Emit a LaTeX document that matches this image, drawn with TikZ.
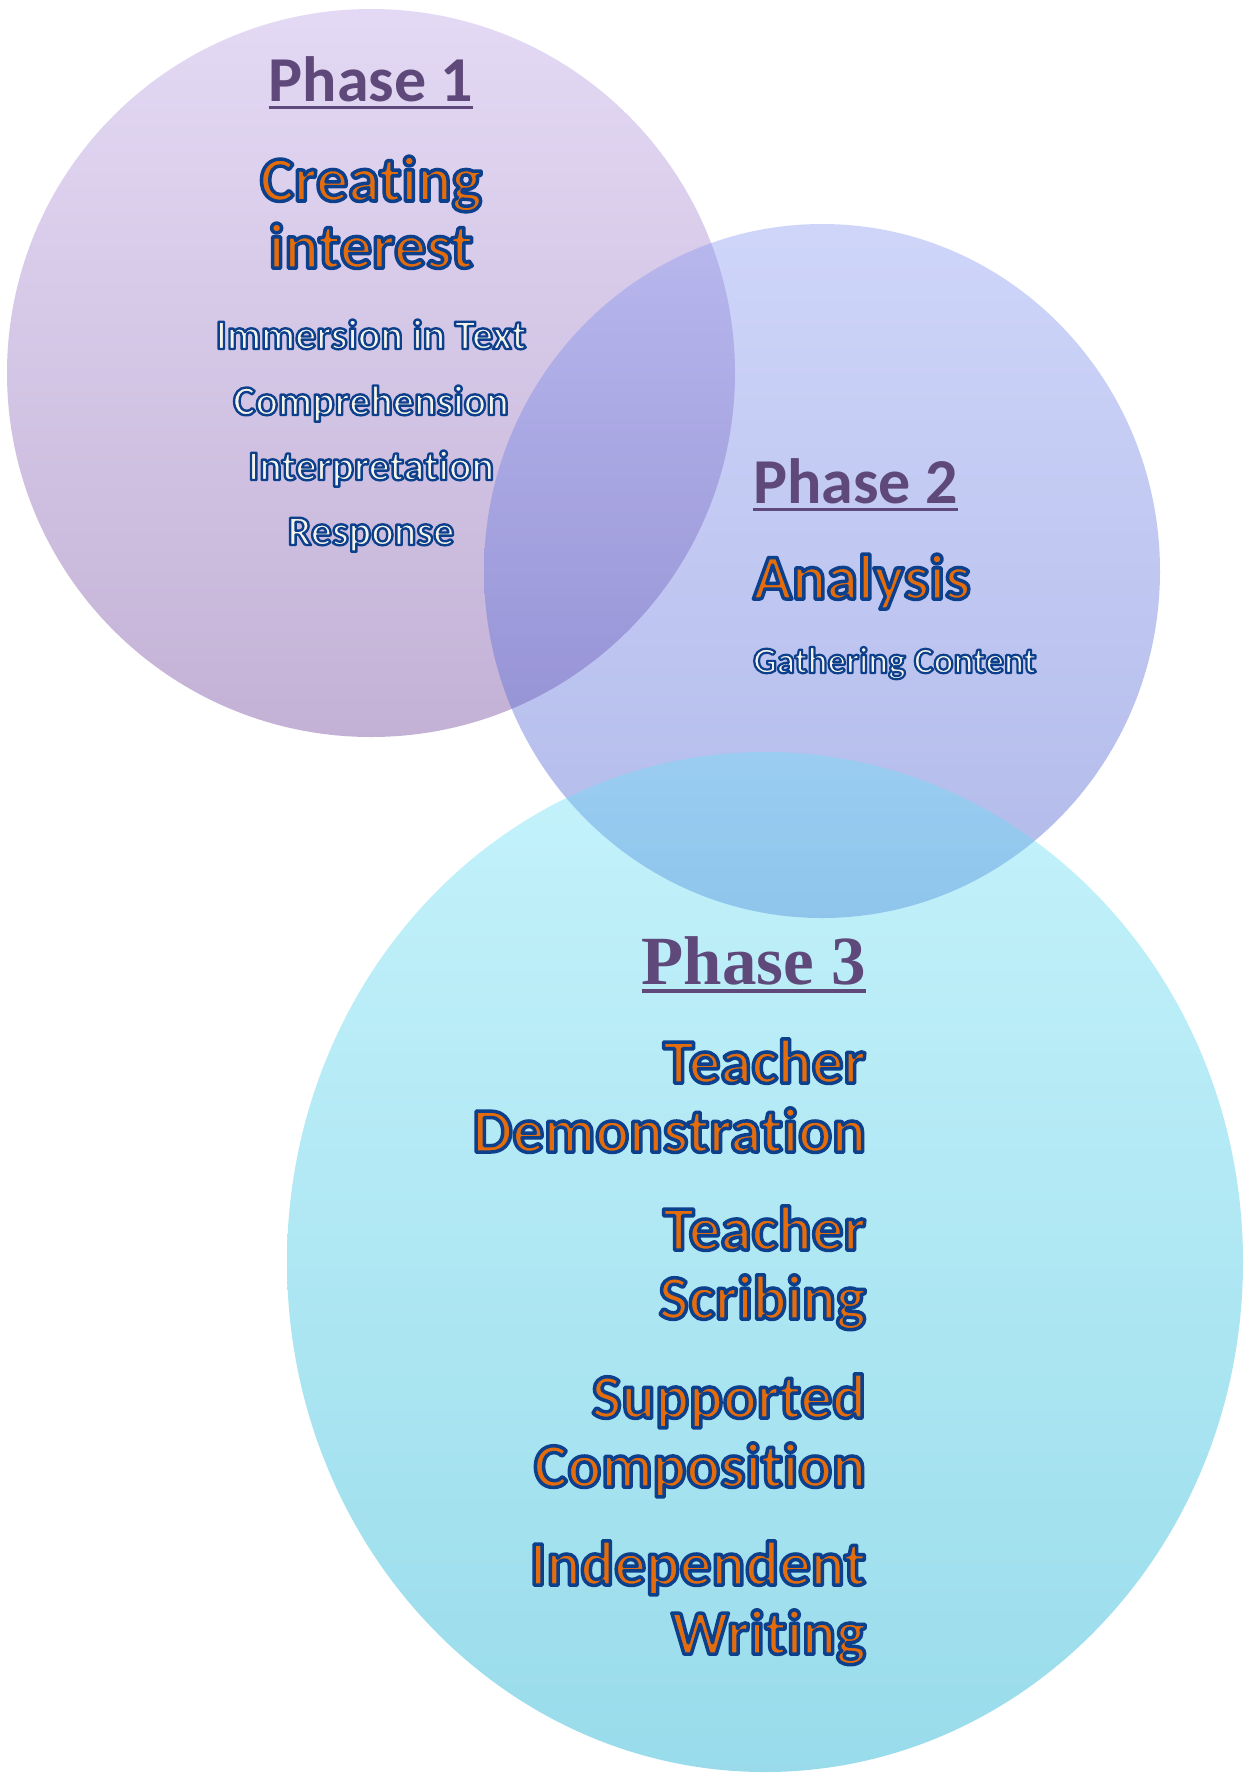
\documentclass[tikz,border=0pt]{standalone}
\usepackage{fontspec}
\setmainfont{Carlito}[Ligatures={NoCommon}]
\newfontfamily\phaseserif{Liberation Serif}
\definecolor{phasepurple}{RGB}{95,73,122}
\definecolor{txtorange}{RGB}{228,108,10}
\definecolor{cream}{RGB}{246,244,232}
\definecolor{cAtop}{RGB}{187,162,230}
\definecolor{cAbot}{RGB}{107,62,152}
\definecolor{cBtop}{RGB}{135,152,242}
\definecolor{cBbot}{RGB}{62,82,202}
\definecolor{cCtop}{RGB}{110,225,247}
\definecolor{cCbot}{RGB}{0,167,205}
% outline: stroke colour dark blue, fill+stroke render mode
\newcommand\olstart[1]{\special{pdf:literal direct 0.05 0.25 0.55 RG #1 w 1 j 2 Tr}}
\newcommand\ulined[1]{\setbox0\hbox{#1}\rlap{\rule[-0.13em]{\wd0}{0.055em}}\box0}
\tikzset{
  venn/.style={shading=axis, fill opacity=0.4, draw=none},
  phasehead/.style={inner sep=0, font=\fontsize{64}{70}\selectfont\bfseries\color{phasepurple}},
  phasehead3/.style={inner sep=0, font=\fontsize{69}{74}\selectfont\phaseserif\bfseries\color{phasepurple}},
  bigtxt/.style={inner sep=0, font=\fontsize{64}{67}\selectfont\bfseries\color{txtorange}\olstart{3.5}},
  midtxt/.style={inner sep=0, font=\fontsize{63}{69}\selectfont\bfseries\color{txtorange}\olstart{3.5}},
  smalltxt/.style={inner sep=0, font=\fontsize{42}{46}\selectfont\bfseries\color{cream}\olstart{2.4}},
  tinytxt/.style={inner sep=0, font=\fontsize{37}{40}\selectfont\bfseries\color{cream}\olstart{2.2}},
}
\begin{document}
\begin{tikzpicture}[x=1pt,y=-1pt]
\useasboundingbox (0,0) rectangle (1245,1773);
\fill[white] (0,0) rectangle (1245,1773);
% circles
\path[venn, top color=cAtop, bottom color=cAbot] (371,373) ellipse [x radius=364, y radius=364];
\path[venn, top color=cBtop, bottom color=cBbot] (822,571) ellipse [x radius=338, y radius=347];
\path[venn, top color=cCtop, bottom color=cCbot] (765,1262) ellipse [x radius=478, y radius=510];
% Phase 1
\node[phasehead, anchor=base] (p1) at (371,101) {\ulined{Phase 1}};
\node[bigtxt, anchor=base, align=center] (p1main) at (371,268) {Creating\\interest};
\node[smalltxt, anchor=base] (p1a) at (371,349) {Immersion in Text};
\node[smalltxt, anchor=base] (p1b) at (371,415) {Comprehension};
\node[smalltxt, anchor=base] (p1c) at (371,480) {Interpretation};
\node[smalltxt, anchor=base] (p1d) at (371,545) {Response};
% Phase 2
\node[phasehead, anchor=base west] (p2) at (753,503) {\ulined{Phase 2}};
\node[bigtxt, anchor=base west] (p2main) at (753,599) {Analysis};
\node[tinytxt, anchor=base west] (p2a) at (753,673) {Gathering Content};
% Phase 3
\node[phasehead3, anchor=base east] (p3) at (866,984) {\ulined{Phase 3}};
\node[midtxt, anchor=base east, align=right] (p3a) at (866,1152) {Teacher\\Demonstration};
\node[midtxt, anchor=base east, align=right] (p3b) at (866,1319) {Teacher\\Scribing};
\node[midtxt, anchor=base east, align=right] (p3c) at (866,1487) {Supported\\Composition};
\node[midtxt, anchor=base east, align=right] (p3d) at (866,1654) {Independent\\Writing};
\end{tikzpicture}
\end{document}
